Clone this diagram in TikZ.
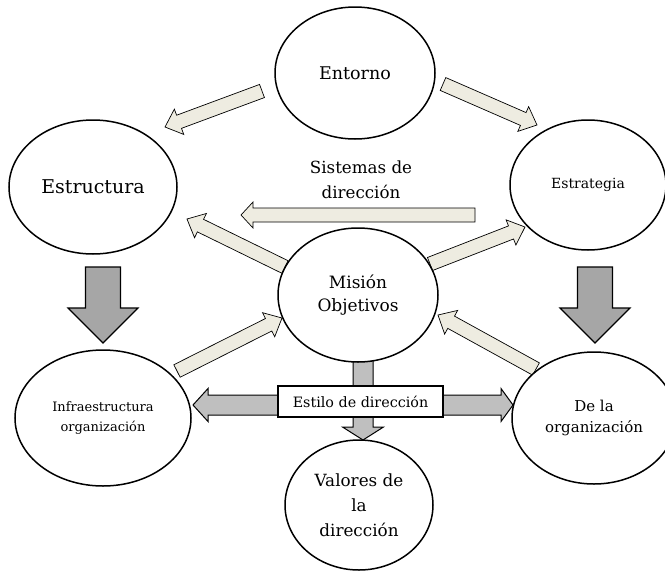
\documentclass[tikz,border=0pt]{standalone}
\usepackage{fontspec}
\setmainfont{DejaVu Serif}
\usetikzlibrary{shapes.geometric,calc}
\definecolor{cream}{HTML}{EEECE1}
\definecolor{darkgr}{HTML}{A6A6A6}
\definecolor{lightgr}{HTML}{BFBFBF}
\newcommand\fatarrow[6]{%
  \coordinate (fa-h) at ($(#3)!#6!(#2)$);
  \draw[#1] ($(#2)!#4!90:(#3)$) -- ($(fa-h)!#4!90:(#3)$) -- ($(fa-h)!#5!90:(#3)$) -- (#3)
    -- ($(fa-h)!#5!-90:(#3)$) -- ($(fa-h)!#4!-90:(#3)$) -- ($(#2)!#4!-90:(#3)$) -- cycle;
}
\tikzset{
  ell/.style={ellipse, draw=black, line width=1.5pt, fill=white, inner sep=0pt, align=center},
  lightarr/.style={draw=black, line width=0.7pt, fill=cream, line join=miter},
  bigarr/.style={draw=black, line width=1.2pt, fill=darkgr, line join=miter},
  smallarr/.style={draw=black, line width=1pt, fill=lightgr, line join=miter},
  boxst/.style={draw=black, line width=1.2pt, fill=white, minimum width=165pt, minimum height=31pt, inner sep=0pt},
}
\begin{document}
\begin{tikzpicture}[x=1pt, y=-1pt]
\useasboundingbox[fill=white] (0,0) rectangle (665,571);
% arrow end points
\coordinate (a1s) at (262,91);  \coordinate (a1e) at (165,127);
\coordinate (a2s) at (443,84);  \coordinate (a2e) at (537,125);
\coordinate (a3s) at (475,215); \coordinate (a3e) at (241,215);
\coordinate (a4s) at (285,267); \coordinate (a4e) at (187,219);
\coordinate (a5s) at (430,264); \coordinate (a5e) at (525,227);
\coordinate (a6s) at (536,369); \coordinate (a6e) at (438,315);
\coordinate (a7s) at (177,371); \coordinate (a7e) at (282,318);
\coordinate (b1s) at (103,267); \coordinate (b1e) at (103,343);
\coordinate (b2s) at (595,267); \coordinate (b2e) at (595,343);
\coordinate (hls) at (300,405); \coordinate (hle) at (193,405);
\coordinate (hrs) at (420,405); \coordinate (hre) at (513,405);
\coordinate (vs) at (363,350);  \coordinate (ve) at (363,440);
% light arrows
\fatarrow{lightarr}{a1s}{a1e}{7pt}{13.5pt}{15pt}
\fatarrow{lightarr}{a2s}{a2e}{7pt}{13.5pt}{15pt}
\fatarrow{lightarr}{a3s}{a3e}{7pt}{13pt}{12pt}
\fatarrow{lightarr}{a4s}{a4e}{7pt}{13.5pt}{15pt}
\fatarrow{lightarr}{a5s}{a5e}{7pt}{13.5pt}{15pt}
\fatarrow{lightarr}{a6s}{a6e}{7pt}{13.5pt}{15pt}
\fatarrow{lightarr}{a7s}{a7e}{7pt}{13.5pt}{15pt}
% big grey arrows
\fatarrow{bigarr}{b1s}{b1e}{17.5pt}{35pt}{35pt}
\fatarrow{bigarr}{b2s}{b2e}{17.5pt}{35pt}{35pt}
% small grey arrows
\fatarrow{smallarr}{hls}{hle}{10pt}{16.5pt}{15pt}
\fatarrow{smallarr}{hrs}{hre}{10pt}{16.5pt}{12pt}
\fatarrow{smallarr}{vs}{ve}{10pt}{20.5pt}{13pt}
% ellipses
\node[ell, minimum width=160pt, minimum height=132pt, font=\fontsize{17.5}{22}\selectfont] (ent) at (355,73) {Entorno};
\node[ell, minimum width=168pt, minimum height=134pt, font=\fontsize{19}{23}\selectfont] (estr) at (93,187) {Estructura};
\node[ell, minimum width=156pt, minimum height=130pt, font=\fontsize{14}{18}\selectfont] (estg) at (588,185) {Estrategia};
\node[ell, minimum width=160pt, minimum height=134pt, font=\fontsize{17}{23}\selectfont] (mis) at (358,295) {Misión\\Objetivos};
\node[ell, minimum width=176pt, minimum height=136pt, font=\fontsize{13}{20}\selectfont] (infra) at (103,418) {Infraestructura\\organización};
\node[ell, minimum width=164pt, minimum height=132pt, font=\fontsize{15}{21}\selectfont] (dela) at (594,418) {De la\\organización};
\node[ell, minimum width=148pt, minimum height=130pt, font=\fontsize{16.8}{25}\selectfont] (val) at (359,505) {Valores de\\la\\dirección};
% box
\node[boxst, font=\fontsize{14.3}{17}\selectfont] (estilo) at (360.5,401.5) {Estilo de dirección};
% label
\node[align=center, font=\fontsize{16.7}{25}\selectfont] (sist) at (361,180) {Sistemas de\\dirección};
\end{tikzpicture}
\end{document}
